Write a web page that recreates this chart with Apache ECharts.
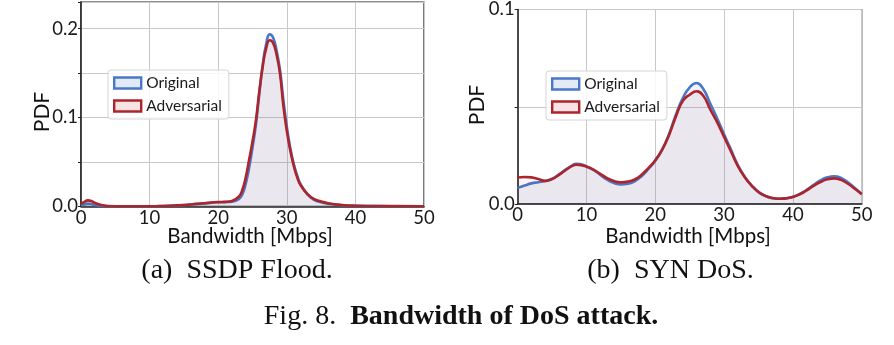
<!DOCTYPE html>
<html>
<head>
<meta charset="utf-8">
<script src="https://cdn.jsdelivr.net/npm/echarts@6/dist/echarts.min.js"></script>
<style>
html,body{margin:0;padding:0;background:#fff;}
#c{width:894px;height:345px;}
</style>
</head>
<body>
<div id="c"></div>
<script>
// ---- Data ----
// (a) SSDP Flood
const ssdpX = [0, 0.5, 1, 1.5, 2, 3, 4, 6, 10, 12, 14, 16, 18, 20, 21, 22, 23, 23.5, 24, 24.5, 25, 25.5, 26, 26.5, 27, 27.5, 28, 28.5, 29, 29.5, 30, 30.5, 31, 31.5, 32, 33, 34, 35, 36, 38, 40, 45, 50];
const ssdpOriginal = [0.001, 0.002, 0.003, 0.0025, 0.0015, 0.0005, 0.0001, 0, 0, 0.0003, 0.001, 0.002, 0.0033, 0.0045, 0.0047, 0.0052, 0.008, 0.013, 0.025, 0.043, 0.066, 0.092, 0.127, 0.160, 0.183, 0.1935, 0.190, 0.176, 0.154, 0.120, 0.090, 0.066, 0.048, 0.035, 0.025, 0.0135, 0.0072, 0.0045, 0.003, 0.0012, 0.0005, 0.0001, 0];
const ssdpAdversarial = [0.0025, 0.005, 0.0067, 0.006, 0.004, 0.0015, 0.0003, 0, 0, 0.0003, 0.001, 0.002, 0.0035, 0.0048, 0.005, 0.006, 0.011, 0.018, 0.032, 0.052, 0.073, 0.097, 0.130, 0.158, 0.178, 0.187, 0.184, 0.171, 0.150, 0.113, 0.085, 0.063, 0.046, 0.033, 0.024, 0.014, 0.008, 0.0055, 0.0035, 0.0015, 0.0007, 0.0002, 0];
// (b) SYN DoS
const synX = [0, 1, 2, 3, 4, 5, 6, 7, 8, 8.5, 9, 10, 11, 12, 13, 14, 15, 16, 17, 18, 19, 20, 21, 22, 23, 24, 25, 26, 27, 28, 29, 30, 31, 32, 33, 34, 35, 36, 37, 38, 39, 40, 41, 42, 43, 44, 45, 46, 47, 48, 49, 50];
const synOriginal = [0.0083, 0.0095, 0.0106, 0.0112, 0.0118, 0.0130, 0.0152, 0.0178, 0.0200, 0.0207, 0.0205, 0.0193, 0.0175, 0.0150, 0.0125, 0.0108, 0.0101, 0.0104, 0.0117, 0.0143, 0.0180, 0.0222, 0.028, 0.036, 0.046, 0.0545, 0.060, 0.0622, 0.059, 0.0515, 0.044, 0.0358, 0.028, 0.0200, 0.0140, 0.0095, 0.0061, 0.0041, 0.0030, 0.0027, 0.0029, 0.0037, 0.0052, 0.0073, 0.0098, 0.0121, 0.0137, 0.0143, 0.0134, 0.0111, 0.0082, 0.0052];
const synAdversarial = [0.0136, 0.0139, 0.0137, 0.0128, 0.0119, 0.0128, 0.0150, 0.0175, 0.0197, 0.0202, 0.0201, 0.0192, 0.0177, 0.0155, 0.0133, 0.0118, 0.0112, 0.0115, 0.0126, 0.0150, 0.0185, 0.0225, 0.028, 0.0355, 0.045, 0.053, 0.0562, 0.058, 0.0555, 0.0485, 0.042, 0.0345, 0.027, 0.0195, 0.0138, 0.0095, 0.0062, 0.0042, 0.0031, 0.0027, 0.0029, 0.0036, 0.0050, 0.0070, 0.0093, 0.0113, 0.0127, 0.0132, 0.0124, 0.0104, 0.0078, 0.0050];
const xTicks = [0, 10, 20, 30, 40, 50];
const seriesNames = ['Original', 'Adversarial'];
const subCaptions = ['(a)  SSDP Flood.', '(b)  SYN DoS.'];

// ---- Chart ----
const BLUE = '#4a78c8', RED = '#ad242b';
const FONT = 'Lato';
const pairs = (xs, ys) => xs.map((x, i) => [x, ys[i]]);

const chart = echarts.init(document.getElementById('c'), null, {renderer: 'canvas'});

function isMajor(v) {
  const t = v * 10;
  return Math.abs(t - Math.round(t)) < 1e-6;
}
function xAxisFor(gi) {
  return {
    type: 'value', gridIndex: gi, min: xTicks[0], max: xTicks[xTicks.length - 1], interval: 10,
    axisLine: {show: true, onZero: false, lineStyle: {color: '#222', width: 1.5}},
    axisTick: {show: false},
    axisLabel: {color: '#1a1a1a', fontFamily: FONT, fontSize: 18.5, margin: 2},
    splitLine: {show: true, lineStyle: {color: '#c8c8c8', width: 1}}
  };
}
function yAxisFor(gi, max) {
  return {
    type: 'value', gridIndex: gi, min: 0, max: max, interval: 0.05,
    axisLine: {show: true, lineStyle: {color: '#222', width: 1.5}},
    axisTick: {show: true, length: 3, lineStyle: {color: '#222'}},
    axisLabel: {
      color: '#1a1a1a', fontFamily: FONT, fontSize: 18.5, margin: 3,
      formatter: v => (isMajor(v) && v <= max + 1e-9) ? v.toFixed(1) : ''
    },
    splitLine: {show: true, lineStyle: {color: '#c8c8c8', width: 1}}
  };
}
function series(name, xs, ys, gi, color, fill) {
  return {
    name: name, type: 'line', xAxisIndex: gi, yAxisIndex: gi,
    data: pairs(xs, ys), smooth: 0.5, symbol: 'none',
    lineStyle: {color: color, width: 2.6},
    itemStyle: {color: color},
    areaStyle: {color: fill, origin: 'start'},
    z: name === 'Adversarial' ? 3 : 2
  };
}
function legendFor(left, top) {
  return {
    orient: 'vertical', left: left, top: top, icon: 'rect',
    itemWidth: 27, itemHeight: 11, itemGap: 7,
    padding: [5, 7, 5, 5],
    backgroundColor: 'rgba(255,255,255,0.85)', borderColor: '#d4d4d4', borderWidth: 1, borderRadius: 3,
    textStyle: {color: '#1a1a1a', fontFamily: FONT, fontSize: 15.5},
    data: [
      {name: seriesNames[0], itemStyle: {color: '#e3eaf7', borderColor: BLUE, borderWidth: 2.4}},
      {name: seriesNames[1], itemStyle: {color: '#f7e3e4', borderColor: RED, borderWidth: 2.4}}
    ]
  };
}

const option = {
  backgroundColor: '#fff',
  animation: false,
  grid: [
    {left: 81, top: 2, width: 343, height: 204.3, show: true, borderColor: '#222', borderWidth: 1.2, backgroundColor: 'transparent'},
    {left: 517.7, top: 2.7, width: 344, height: 201.3, show: true, borderColor: '#222', borderWidth: 1.2, backgroundColor: 'transparent'}
  ],
  xAxis: [xAxisFor(0), xAxisFor(1)],
  yAxis: [yAxisFor(0, 0.23), yAxisFor(1, 0.1)],
  legend: [legendFor(108, 70), legendFor(546, 71)],
  series: [
    series(seriesNames[0], ssdpX, ssdpOriginal, 0, BLUE, 'rgba(74,120,200,0.13)'),
    series(seriesNames[1], ssdpX, ssdpAdversarial, 0, RED, 'rgba(173,36,43,0.08)'),
    series(seriesNames[0], synX, synOriginal, 1, BLUE, 'rgba(74,120,200,0.13)'),
    series(seriesNames[1], synX, synAdversarial, 1, RED, 'rgba(173,36,43,0.08)')
  ],
  graphic: [
    {type: 'text', x: 42.5, y: 112, rotation: Math.PI / 2,
      style: {text: 'PDF', fill: '#111', font: '21px ' + FONT, textAlign: 'center', textVerticalAlign: 'middle'}},
    {type: 'text', x: 477.5, y: 105, rotation: Math.PI / 2,
      style: {text: 'PDF', fill: '#111', font: '21px ' + FONT, textAlign: 'center', textVerticalAlign: 'middle'}},
    {type: 'text', x: 250, y: 236,
      style: {text: 'Bandwidth [Mbps]', fill: '#111', font: '20.5px ' + FONT, textAlign: 'center', textVerticalAlign: 'middle'}},
    {type: 'text', x: 688, y: 236,
      style: {text: 'Bandwidth [Mbps]', fill: '#111', font: '20.5px ' + FONT, textAlign: 'center', textVerticalAlign: 'middle'}},
    {type: 'text', x: 237, y: 271,
      style: {text: subCaptions[0], fill: '#111', font: '28px "Liberation Serif"', textAlign: 'center', textVerticalAlign: 'middle'}},
    {type: 'text', x: 670.5, y: 271,
      style: {text: subCaptions[1], fill: '#111', font: '28px "Liberation Serif"', textAlign: 'center', textVerticalAlign: 'middle'}},
    {type: 'text', x: 461, y: 317,
      style: {
        text: '{r|Fig. 8.}  {b|Bandwidth of DoS attack.}', textAlign: 'center', textVerticalAlign: 'middle',
        rich: {
          r: {fill: '#111', fontFamily: 'Liberation Serif', fontSize: 28},
          b: {fill: '#111', fontFamily: 'Liberation Serif', fontSize: 28, fontWeight: 'bold'}
        },
        font: '28px "Liberation Serif"', fill: '#111'
      }}
  ]
};
chart.setOption(option);
</script>
</body>
</html>
